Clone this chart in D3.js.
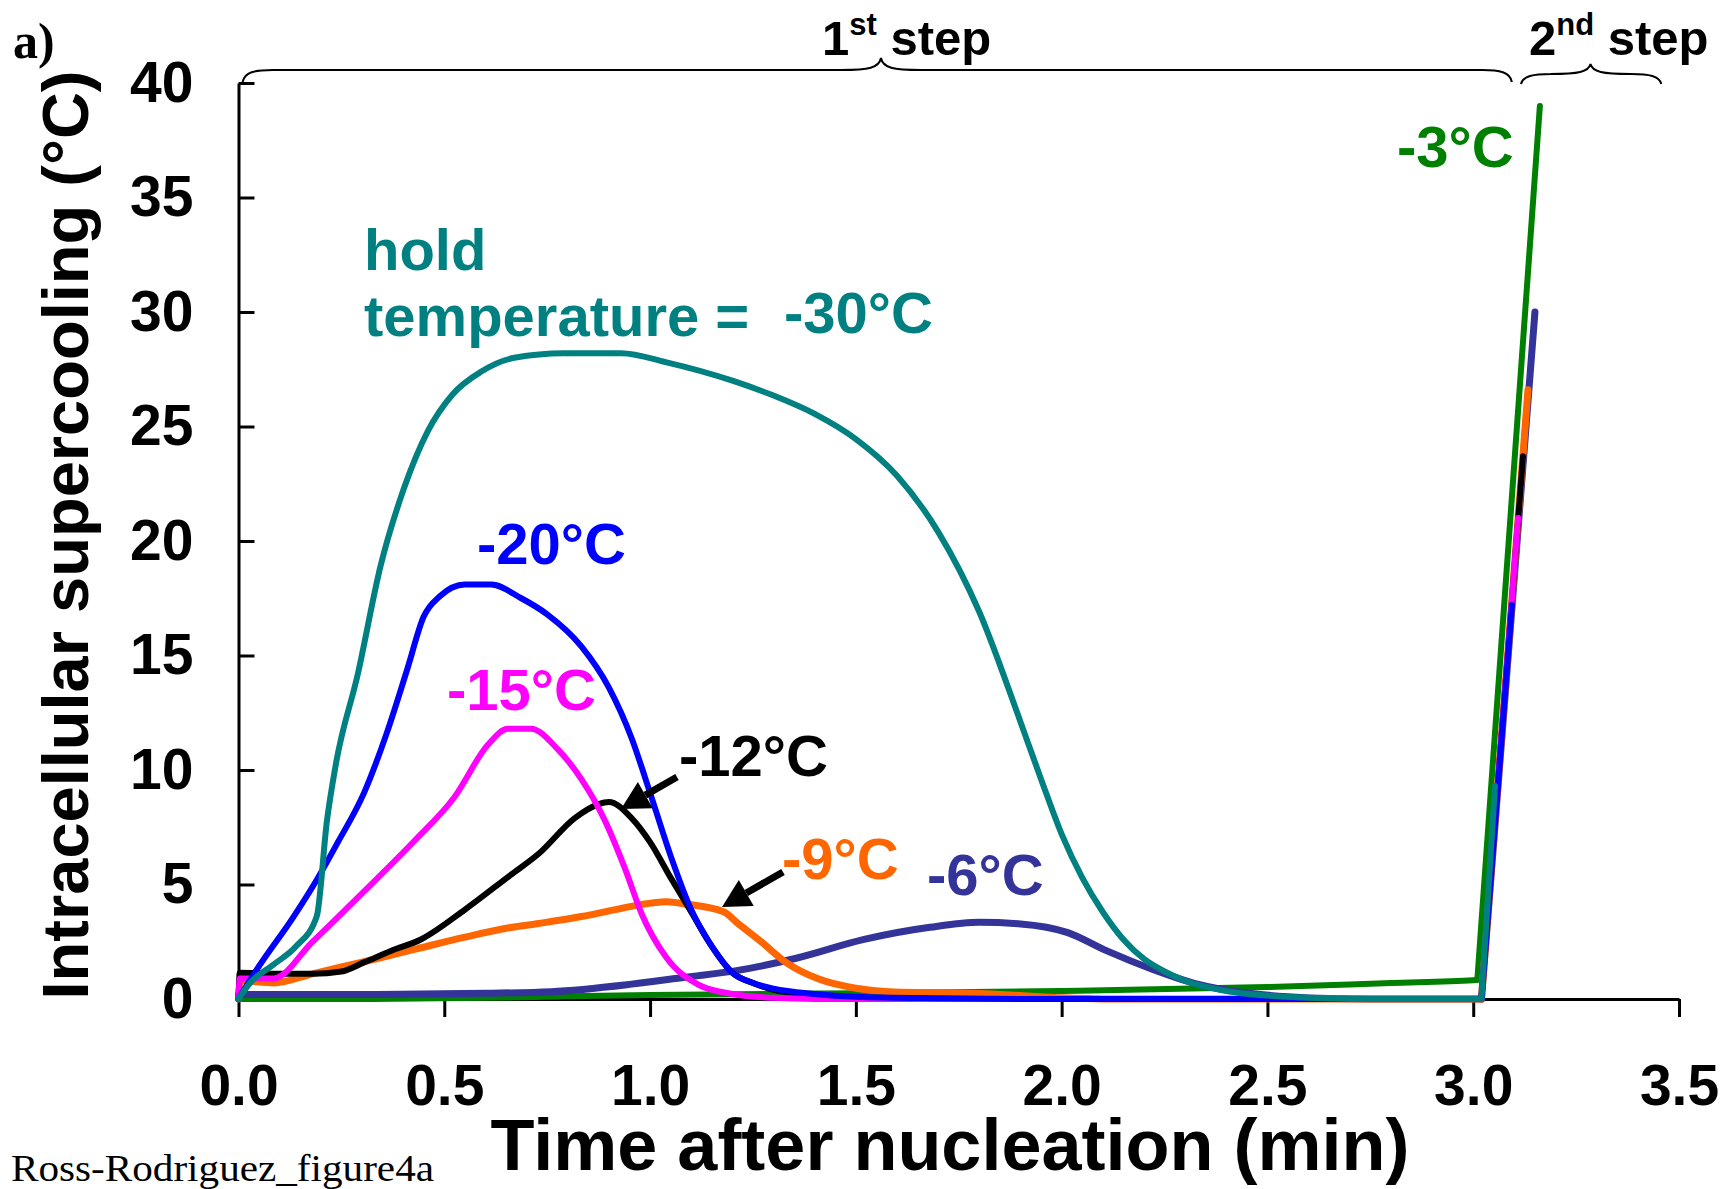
<!DOCTYPE html>
<html>
<head>
<meta charset="utf-8">
<script src="https://cdn.jsdelivr.net/npm/d3@7"></script>
<style>
  body { margin: 0; background: #fff; }
</style>
</head>
<body>
<svg id="root"></svg>
<script>
// Intracellular supercooling after nucleation, one curve per hold temperature

const SANS = '"Liberation Sans", Arial, sans-serif';
const SERIF = '"Liberation Serif", "Times New Roman", serif';

// [time (min), supercooling (°C)]
// last point of each series = end of the 2nd step jump
const green3 = [[0,0],[0.3,0],[0.6,0.05],[0.8,0.12],[1.0,0.18],[1.5,0.25],[2.0,0.35],[2.5,0.52],[2.8,0.7],[3.0,0.82],[3.01,0.84],[3.162,39]];
const navy6 = [[0,0.2],[0.3,0.2],[0.6,0.25],[0.76,0.32],[0.955,0.65],[1.085,0.95],[1.21,1.24],[1.355,1.78],[1.52,2.6],[1.68,3.13],[1.8,3.35],[1.9,3.28],[2.015,2.9],[2.11,2.1],[2.22,1.3],[2.33,0.65],[2.44,0.28],[2.55,0.1],[2.65,0.02],[2.75,0],[3.02,0],[3.15,30]];
const orange9 = [[0,0],[0.005,0.8],[0.085,0.7],[0.18,1.1],[0.25,1.4],[0.345,1.8],[0.435,2.2],[0.55,2.7],[0.654,3.1],[0.73,3.3],[0.833,3.6],[0.915,3.9],[0.97,4.1],[1.04,4.25],[1.085,4.15],[1.18,3.8],[1.21,3.35],[1.27,2.5],[1.33,1.6],[1.41,0.87],[1.5,0.47],[1.58,0.32],[1.68,0.28],[1.8,0.24],[1.9,0.15],[2.0,0.05],[2.1,0],[3.02,0],[3.133,26.6]];
const black12 = [[0,0],[0.003,1.15],[0.1,1.1],[0.18,1.1],[0.25,1.2],[0.305,1.6],[0.37,2.1],[0.443,2.6],[0.55,3.9],[0.66,5.4],[0.73,6.35],[0.817,7.9],[0.874,8.5],[0.9,8.6],[0.955,7.9],[1.0,6.85],[1.05,5.3],[1.1,3.8],[1.15,2.3],[1.2,1.15],[1.25,0.7],[1.3,0.4],[1.4,0.18],[1.5,0.05],[1.6,0],[3.02,0],[3.121,23.7]];
const magenta15 = [[0,0],[0.003,0.9],[0.085,0.9],[0.18,2.5],[0.305,4.7],[0.427,6.9],[0.524,8.8],[0.606,11.1],[0.654,11.8],[0.71,11.8],[0.776,10.9],[0.833,9.6],[0.89,7.8],[0.94,5.65],[0.98,3.7],[1.04,1.8],[1.12,0.6],[1.2,0.22],[1.3,0.05],[1.4,0],[3.02,0],[3.109,21]];
const blue20 = [[0,0],[0.045,1.3],[0.134,3.6],[0.19,5.2],[0.24,6.8],[0.305,9.0],[0.36,11.6],[0.41,14.4],[0.45,16.7],[0.49,17.6],[0.55,18.1],[0.614,18.1],[0.687,17.5],[0.75,16.8],[0.833,15.4],[0.9,13.6],[0.955,11.4],[1.0,9.0],[1.05,6.25],[1.1,3.9],[1.15,2.3],[1.2,1.15],[1.25,0.7],[1.3,0.45],[1.4,0.22],[1.5,0.1],[1.7,0.03],[1.9,0],[3.02,0],[3.094,17.2]];
const teal30 = [[0,0],[0.028,0.7],[0.085,1.5],[0.14,2.3],[0.19,3.6],[0.215,7.8],[0.236,10.2],[0.29,14.2],[0.345,18.9],[0.402,22.3],[0.46,24.8],[0.52,26.4],[0.59,27.4],[0.67,28.0],[0.79,28.2],[0.93,28.2],[1.04,27.8],[1.2,27.0],[1.3,26.35],[1.4,25.55],[1.5,24.45],[1.6,22.85],[1.7,20.4],[1.8,16.9],[1.9,12.1],[1.95,9.6],[2.0,7.2],[2.05,5.3],[2.1,3.8],[2.15,2.6],[2.2,1.75],[2.25,1.2],[2.3,0.8],[2.4,0.35],[2.5,0.15],[2.6,0.05],[2.7,0],[3.02,0],[3.053,9.3]];

const xTicks = [0, 0.5, 1.0, 1.5, 2.0, 2.5, 3.0, 3.5];
const yTicks = [0, 5, 10, 15, 20, 25, 30, 35, 40];

const W = 1731, H = 1189;
const svg = d3.select("#root").attr("width", W).attr("height", H)
  .style("font-family", SANS).style("font-weight", "bold");

const xScale = d3.scaleLinear([0, 3.5], [238.5, 1679]);
const yScale = d3.scaleLinear([0, 40], [999, 83]);

// Axes
const xAxis = d3.axisBottom(xScale).tickValues(xTicks).tickSize(18).tickSizeOuter(0).tickPadding(48).tickFormat(d3.format(".1f"));
const yAxis = d3.axisLeft(yScale).tickValues(yTicks).tickSizeInner(-16).tickSizeOuter(0).tickPadding(45);

const gx = svg.append("g").attr("transform", `translate(0,${yScale(0)})`).call(xAxis);
const gy = svg.append("g").attr("transform", `translate(${xScale(0)},0)`).call(yAxis);
[gx, gy].forEach(g => {
  g.attr("font-family", null).attr("font-size", null);
  g.select(".domain").attr("stroke", "#000").attr("stroke-width", 3);
  g.selectAll(".tick line").attr("stroke", "#000").attr("stroke-width", 3);
  g.selectAll(".tick text").attr("fill", "#000").style("font-size", "57px");
});

// Curves (bottom first, so the teal step ends on top like in the figure)
const series = [
  { data: green3, color: "#008000", w: 6 },
  { data: navy6, color: "#333399", w: 7 },
  { data: orange9, color: "#FF6600", w: 7 },
  { data: black12, color: "#000000", w: 6 },
  { data: magenta15, color: "#FF00FF", w: 6 },
  { data: blue20, color: "#0000FF", w: 6 },
  { data: teal30, color: "#008080", w: 6 }
];
const smooth = d3.line().x(d => xScale(d[0])).y(d => yScale(d[1])).curve(d3.curveMonotoneX);
const straight = d3.line().x(d => xScale(d[0])).y(d => yScale(d[1]));
series.forEach(s => {
  const n = s.data.length;
  // 1st step: smooth curve; 2nd step: straight jump
  [[s.data.slice(0, n - 1), smooth], [s.data.slice(n - 2), straight]].forEach(([d, gen]) => {
    svg.append("path")
      .datum(d)
      .attr("fill", "none")
      .attr("stroke", s.color)
      .attr("stroke-width", s.w)
      .attr("stroke-linejoin", "round")
      .attr("stroke-linecap", "round")
      .attr("d", gen);
  });
});

// Axis titles
svg.append("text")
  .attr("x", 950).attr("y", 1170)
  .attr("text-anchor", "middle")
  .style("font-size", "72px")
  .text("Time after nucleation (min)");

svg.append("text")
  .attr("transform", "translate(88,535) rotate(-90)")
  .attr("text-anchor", "middle")
  .style("font-size", "65px")
  .text("Intracellular supercooling (°C)");

// Curve labels
const labels = [
  { t: "hold", x: 364, y: 270, c: "#008080" },
  { t: "temperature =", x: 364, y: 336, c: "#008080" },
  { t: "-30°C", x: 784, y: 333, c: "#008080" },
  { t: "-20°C", x: 477, y: 564, c: "#0000FF" },
  { t: "-15°C", x: 447, y: 710, c: "#FF00FF" },
  { t: "-12°C", x: 679, y: 776, c: "#000000" },
  { t: "-9°C", x: 782, y: 879, c: "#FF6600" },
  { t: "-6°C", x: 927, y: 895, c: "#333399" },
  { t: "-3°C", x: 1397, y: 167, c: "#008000" }
];
labels.forEach(l => {
  svg.append("text").attr("x", l.x).attr("y", l.y)
    .attr("fill", l.c).style("font-size", "58px").text(l.t);
});

// Arrows pointing at the -12 and -9 curves
function arrow(x1, y1, x2, y2) {
  const a = Math.atan2(y2 - y1, x2 - x1);
  const hl = 28, hw = 15;
  const bx = x2 - hl * Math.cos(a), by = y2 - hl * Math.sin(a);
  svg.append("line").attr("x1", x1).attr("y1", y1).attr("x2", bx).attr("y2", by)
    .attr("stroke", "#000").attr("stroke-width", 7);
  svg.append("path")
    .attr("d", `M${x2},${y2}L${bx + hw * Math.sin(a)},${by - hw * Math.cos(a)}L${bx - hw * Math.sin(a)},${by + hw * Math.cos(a)}Z`)
    .attr("fill", "#000");
}
arrow(677, 777, 621, 809);
arrow(783, 872, 722, 907);

// Braces marking the two steps
function brace(x1, x2, xm, yEnd, yLine, yTip) {
  const p = d3.path();
  p.moveTo(x1, yEnd);
  p.bezierCurveTo(x1 + 2, yLine + 2, x1 + 12, yLine, x1 + 30, yLine);
  p.lineTo(xm - 40, yLine);
  p.bezierCurveTo(xm - 12, yLine, xm - 2, yLine - 2, xm, yTip);
  p.bezierCurveTo(xm + 2, yLine - 2, xm + 12, yLine, xm + 40, yLine);
  p.lineTo(x2 - 30, yLine);
  p.bezierCurveTo(x2 - 12, yLine, x2 - 2, yLine + 2, x2, yEnd);
  svg.append("path").attr("d", p.toString()).attr("fill", "none")
    .attr("stroke", "#000").attr("stroke-width", 2);
}
brace(xScale(0.01), xScale(3.094), xScale(1.561), 82, 70, 58);
brace(xScale(3.116), xScale(3.457), xScale(3.285), 84, 74, 64);

function stepLabel(x, y, num, sup) {
  const t = svg.append("text").attr("x", x).attr("y", y).style("font-size", "49px");
  t.append("tspan").text(num);
  t.append("tspan").style("font-size", "31px").attr("dy", -20).text(sup);
  t.append("tspan").attr("dy", 20).text(" step");
}
stepLabel(822, 55, "1", "st");
stepLabel(1529, 55, "2", "nd");

// Panel letter and file tag (serif)
svg.append("text").attr("x", 13).attr("y", 58)
  .style("font-family", SERIF)
  .style("font-size", "50px").text("a)");
svg.append("text").attr("x", 11).attr("y", 1181)
  .style("font-family", SERIF)
  .style("font-weight", "normal")
  .style("font-size", "38px")
  .attr("textLength", 423).attr("lengthAdjust", "spacingAndGlyphs")
  .text("Ross-Rodriguez_figure4a");
</script>
</body>
</html>
